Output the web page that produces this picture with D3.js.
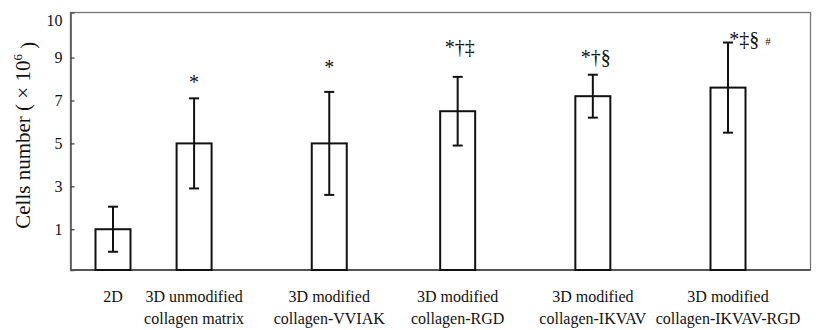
<!DOCTYPE html>
<html>
<head>
<meta charset="utf-8">
<script src="https://cdn.jsdelivr.net/npm/d3@7/dist/d3.min.js"></script>
<style>
  html, body { margin: 0; padding: 0; background: #fff; }
  svg { display: block; }
  text { font-family: "Liberation Serif", "Times New Roman", serif; fill: #111; }
</style>
</head>
<body>
<svg id="chart" width="816" height="330"></svg>
<script>
// ---- data ----
const categories = [
  ["2D"],
  ["3D unmodified", "collagen matrix"],
  ["3D modified", "collagen-VVIAK"],
  ["3D modified", "collagen-RGD"],
  ["3D modified", "collagen-IKVAV"],
  ["3D modified", "collagen-IKVAV-RGD"]
];
const values = [1.0, 5.0, 5.0, 6.5, 7.2, 7.6];
const errors = [1.05, 2.1, 2.4, 1.6, 1.0, 2.1];
const marks = ["", "*", "*", "*\u2020\u2021", "*\u2020\u00a7", "*\u2021\u00a7"];
const extraMarks = ["", "", "", "", "", "#"];
const markLevels = [0, 7.95, 8.65, 9.6, 9.1, 9.95];
const yTickValues = [1, 3, 5, 7, 9, 10.75];
const yTickLabels = ["1", "3", "5", "7", "9", "10"];

// ---- layout ----
const svg = d3.select("#chart");
const pLeft = 70.5, pRight = 810.5, pTop = 12.5, pBottom = 270;
const slots = [0, 0.6, 1.6, 2.55, 3.55, 4.55];
const barW = 35;
const markDx = [0, 0, 0, 2, 3, 22];

const x = d3.scaleLinear().domain([0, 4.55]).range([113, 728]);
const y = d3.scaleLinear().domain([-0.9, 11.1]).range([pBottom, pTop]);
const base = y.domain()[0];

// frame
svg.append("rect")
  .attr("x", pLeft).attr("y", pTop)
  .attr("width", pRight - pLeft).attr("height", pBottom - pTop)
  .attr("fill", "none").attr("stroke", "#777").attr("stroke-width", 1.3);

// y axis
const yAxis = d3.axisLeft(y)
  .tickValues(yTickValues)
  .tickFormat((d, i) => yTickLabels[i])
  .tickSize(-4)
  .tickPadding(8);
const gy = svg.append("g").attr("transform", `translate(${pLeft},0)`).call(yAxis);
gy.select(".domain").attr("stroke", "#555").attr("stroke-width", 1.6);
gy.selectAll(".tick line").attr("stroke", "#444").attr("stroke-width", 1.3);
gy.selectAll(".tick").filter(d => d > 10).select("line").remove();
gy.selectAll(".tick text")
  .attr("font-family", "Liberation Serif, serif")
  .attr("font-size", 16).attr("fill", "#111");

// x axis line
svg.append("line")
  .attr("x1", pLeft).attr("x2", pRight)
  .attr("y1", pBottom).attr("y2", pBottom)
  .attr("stroke", "#555").attr("stroke-width", 1.8);

const idx = d3.range(values.length);

// bars
svg.append("g").selectAll("rect").data(idx).join("rect")
  .attr("x", i => x(slots[i]) - barW / 2)
  .attr("y", i => y(values[i]))
  .attr("width", barW)
  .attr("height", i => y(base) - y(values[i]))
  .attr("fill", "#fff").attr("stroke", "#111").attr("stroke-width", 2);

// error bars
const eg = svg.append("g").attr("stroke", "#111").attr("stroke-width", 2);
idx.forEach(i => {
  const cx = x(slots[i]);
  const y1 = y(values[i] + errors[i]), y0 = y(values[i] - errors[i]);
  eg.append("line").attr("x1", cx).attr("x2", cx).attr("y1", y1).attr("y2", y0);
  eg.append("line").attr("x1", cx - 5).attr("x2", cx + 5).attr("y1", y1).attr("y2", y1);
  eg.append("line").attr("x1", cx - 5).attr("x2", cx + 5).attr("y1", y0).attr("y2", y0);
});

// significance marks
idx.filter(i => marks[i]).forEach(i => {
  const t = svg.append("text")
    .attr("x", x(slots[i]) + markDx[i])
    .attr("y", y(markLevels[i]))
    .attr("dy", "0.45em")
    .attr("text-anchor", "middle")
    .attr("font-size", 20)
    .text(marks[i]);
  if (extraMarks[i]) {
    t.append("tspan").attr("dx", 6).attr("dy", "-0.1em")
      .attr("font-size", 11).text(extraMarks[i]);
  }
});

// category labels
const lg = svg.append("g");
idx.forEach(i => {
  const t = lg.append("text")
    .attr("x", x(slots[i]))
    .attr("y", 302)
    .attr("text-anchor", "middle")
    .attr("font-size", 16);
  categories[i].forEach((line, k) => {
    t.append("tspan").attr("x", x(slots[i])).attr("dy", k === 0 ? 0 : 22).text(line);
  });
});

// y axis title
const yt = svg.append("text")
  .attr("transform", `translate(30,${(pTop + pBottom) / 2 - 6}) rotate(-90)`)
  .attr("text-anchor", "middle")
  .attr("font-size", 21);
yt.append("tspan").text("Cells number ( \u00d7 10");
yt.append("tspan").attr("font-size", 13).attr("dy", "-0.6em").text("6");
yt.append("tspan").attr("dy", "0.6em").text(" )");
</script>
</body>
</html>
